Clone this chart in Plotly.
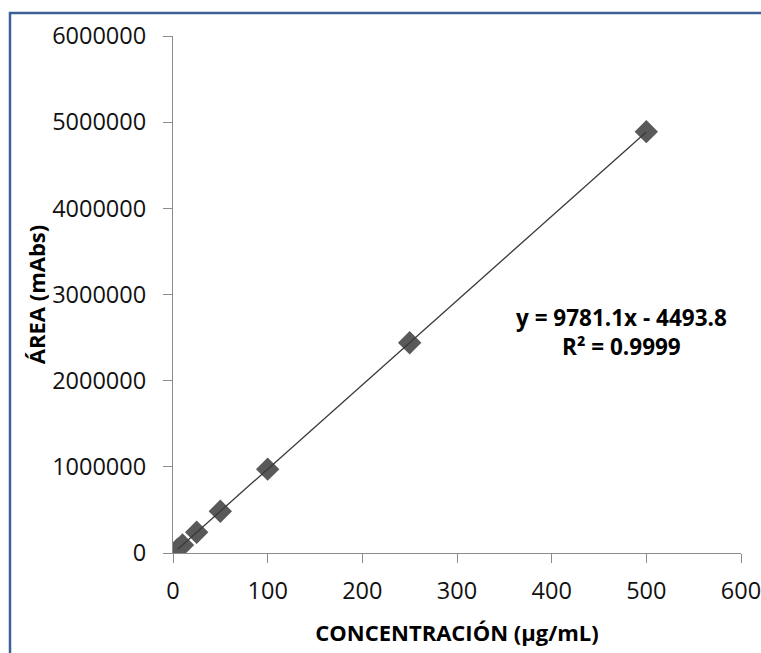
import plotly.graph_objects as go

# Data
concentracion = [5, 10, 25, 50, 100, 250, 500]
area = [44000, 93000, 240000, 484000, 973000, 2440000, 4890000]
slope = 9781.1
intercept = -4493.8
r2_text = "0.9999"
x_ticks = [0, 100, 200, 300, 400, 500, 600]
y_ticks = [0, 1000000, 2000000, 3000000, 4000000, 5000000, 6000000]

trend_x = [min(concentracion), max(concentracion)]
trend_y = [slope * v + intercept for v in trend_x]

W, H = 761, 653
ml, mr, mt, mb = 173, 20, 36, 100
pw = W - ml - mr
ph = H - mt - mb

fig = go.Figure()
fig.add_trace(go.Scatter(
    x=concentracion, y=area, mode="markers",
    marker=dict(symbol="diamond", size=18, color="#595959",
                line=dict(width=0)),
    showlegend=False, hoverinfo="x+y"))
fig.add_trace(go.Scatter(
    x=trend_x, y=trend_y, mode="lines",
    line=dict(color="#3a3a3a", width=1.3),
    showlegend=False, hoverinfo="skip"))

font_family = "Open Sans, Liberation Sans, sans-serif"

fig.update_layout(
    width=W, height=H,
    margin=dict(l=ml, r=mr, t=mt, b=mb, pad=0),
    paper_bgcolor="white", plot_bgcolor="white",
    font=dict(family=font_family, color="#000000", size=22),
    xaxis=dict(
        range=[0, 600], tickvals=x_ticks, ticktext=[str(v) for v in x_ticks],
        automargin=False, ticklabeloverflow="allow",
        showgrid=False, zeroline=False, showline=True, linecolor="#8c8c8c",
        linewidth=1.2, ticks="outside", ticklen=9, tickcolor="#8c8c8c",
        tickwidth=1.2, tickfont=dict(size=23.5, color="#111111"),
        ticklabelstandoff=8,
        title=dict(text="<b>CONCENTRACIÓN (µg/mL)</b>", standoff=20,
                   font=dict(size=22, color="#000000")),
    ),
    yaxis=dict(
        range=[0, 6000000], tickvals=y_ticks, ticktext=[str(v) for v in y_ticks],
        automargin=False, ticklabeloverflow="allow",
        showgrid=False, zeroline=False, showline=True, linecolor="#8c8c8c",
        linewidth=1.2, ticks="outside", ticklen=9, tickcolor="#8c8c8c",
        tickwidth=1.2, tickfont=dict(size=23.5, color="#111111"),
        ticklabelstandoff=12,
        title=dict(text="<b>ÁREA (mAbs)</b>", standoff=0,
                   font=dict(size=22, color="#000000")),
    ),
    annotations=[
        dict(x=474, y=2560000, xref="x", yref="y",
             text="<b>y = %.1fx - %.1f<br>R² = %s</b>" % (slope, -intercept, r2_text),
             showarrow=False, align="center",
             font=dict(size=22.5, color="#000000", family=font_family)),
    ],
    shapes=[
        dict(type="rect", xref="paper", yref="paper",
             x0=(10 - ml) / pw, x1=(W + 10 - ml) / pw,
             y0=-(H + 10 - mt - ph) / ph, y1=(mt + ph - 13) / ph,
             line=dict(color="#3d6196", width=2.5), fillcolor="rgba(0,0,0,0)",
             layer="below"),
    ],
)

fig.write_html("out.html")
